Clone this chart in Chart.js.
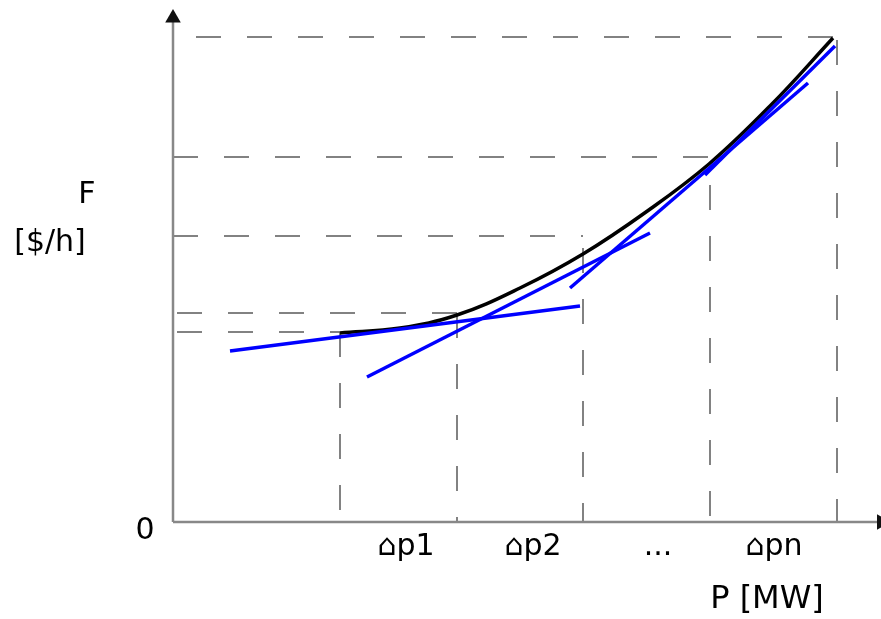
<!DOCTYPE html>
<html lang="en">
<head>
<meta charset="UTF-8">
<title>F(P) cost curve</title>
<script src="https://cdn.jsdelivr.net/npm/chart.js"></script>
<style>
  body { margin: 0; background: #fff; }
  #wrap { width: 881px; height: 619px; position: relative; }
</style>
</head>
<body>
<div id="wrap"><canvas id="costChart"></canvas></div>
<script>
// cost curve F(P) (arbitrary units)
const curveP = [1.67, 2.27, 2.84, 3.47, 4.10, 4.73, 5.36, 5.98, 6.60];
const curveF = [1.89, 1.94, 2.07, 2.34, 2.68, 3.10, 3.58, 4.17, 4.84];

// blue linear pieces: [P1, F1, P2, F2]
const pieces = [
  [0.57, 1.71, 4.07, 2.16],
  [1.94, 1.45, 4.77, 2.89],
  [3.97, 2.34, 6.35, 4.39],
  [5.32, 3.47, 6.62, 4.76]
];

// dashed guides
const hLevels = [1.90, 2.09, 2.86, 3.65, 4.85];
const hStart  = [0.04, 0.04, 0.00, 0.00, 0.23];
const hEnd    = [1.67, 2.85, 4.10, 5.37, 6.60];
const vPos    = [1.67, 2.84, 4.10, 5.37, 6.64];
const vTop    = [1.90, 2.09, 2.74, 3.37, 4.82];

// axis text
const xTickLabels = ['\u2302p1', '\u2302p2', '...', '\u2302pn'];
const xTickPos = [2.33, 3.60, 4.85, 6.01];

const pts = (xs, ys) => xs.map((x, i) => ({ x: x, y: ys[i] }));

const datasets = [];

hLevels.forEach((f, i) => {
  datasets.push({
    data: [{ x: hStart[i], y: f }, { x: hEnd[i], y: f }],
    borderColor: '#5a5a5a', borderWidth: 1.5, borderDash: [25, 26],
    pointRadius: 0, order: 5
  });
});
vPos.forEach((p, i) => {
  datasets.push({
    data: [{ x: p, y: vTop[i] }, { x: p, y: 0 }],
    borderColor: '#5a5a5a', borderWidth: 1.5, borderDash: [25, 26],
    pointRadius: 0, order: 5
  });
});

// axes
datasets.push({
  data: [{ x: 0, y: 0 }, { x: 0, y: 5.0 }],
  borderColor: '#888', borderWidth: 2.5, pointRadius: 0, order: 4
});
datasets.push({
  data: [{ x: 0, y: 0 }, { x: 7.1, y: 0 }],
  borderColor: '#888', borderWidth: 2.5, pointRadius: 0, order: 4
});
// arrow heads
datasets.push({
  data: [{ x: 0, y: 5.04 }], showLine: false,
  pointStyle: 'triangle', pointRadius: 9, pointRotation: 0,
  backgroundColor: '#111', borderColor: '#111', borderWidth: 0, order: 3
});
datasets.push({
  data: [{ x: 7.085, y: 0 }], showLine: false,
  pointStyle: 'triangle', pointRadius: 9, pointRotation: 90,
  backgroundColor: '#111', borderColor: '#111', borderWidth: 0, order: 3
});

// cost curve
datasets.push({
  data: pts(curveP, curveF),
  borderColor: '#000', borderWidth: 3.5, pointRadius: 0,
  tension: 0.4, order: 2
});

// blue pieces
pieces.forEach(s => {
  datasets.push({
    data: [{ x: s[0], y: s[1] }, { x: s[2], y: s[3] }],
    borderColor: '#0000ff', borderWidth: 3.5, pointRadius: 0, order: 1
  });
});

const textPlugin = {
  id: 'axisText',
  afterDraw(chart) {
    const ctx = chart.ctx;
    const xs = chart.scales.x, ys = chart.scales.y;
    const put = (txt, x, y) => ctx.fillText(txt, xs.getPixelForValue(x), ys.getPixelForValue(y));
    ctx.save();
    ctx.fillStyle = '#000';
    ctx.font = '30px "DejaVu Sans"';
    ctx.textAlign = 'center';
    ctx.textBaseline = 'middle';
    put('F', -0.86, 3.27);
    put('[$/h]', -1.23, 2.79);
    put('0', -0.28, -0.09);
    xTickLabels.forEach((t, i) => put(t, xTickPos[i], -0.25));
    ctx.font = '32px "DejaVu Sans"';
    put('P [MW]', 5.94, -0.78);
    ctx.restore();
  }
};

new Chart(document.getElementById('costChart'), {
  type: 'scatter',
  data: { datasets: datasets },
  options: {
    responsive: true,
    maintainAspectRatio: false,
    animation: false,
    showLine: true,
    clip: false,
    layout: { autoPadding: false, padding: { left: 173, right: 1, top: 10, bottom: 97 } },
    plugins: { legend: { display: false }, tooltip: { enabled: false } },
    scales: {
      x: { type: 'linear', display: false, min: 0, max: 7.07 },
      y: { type: 'linear', display: false, min: 0, max: 5.12 }
    }
  },
  plugins: [textPlugin]
});
</script>
</body>
</html>
